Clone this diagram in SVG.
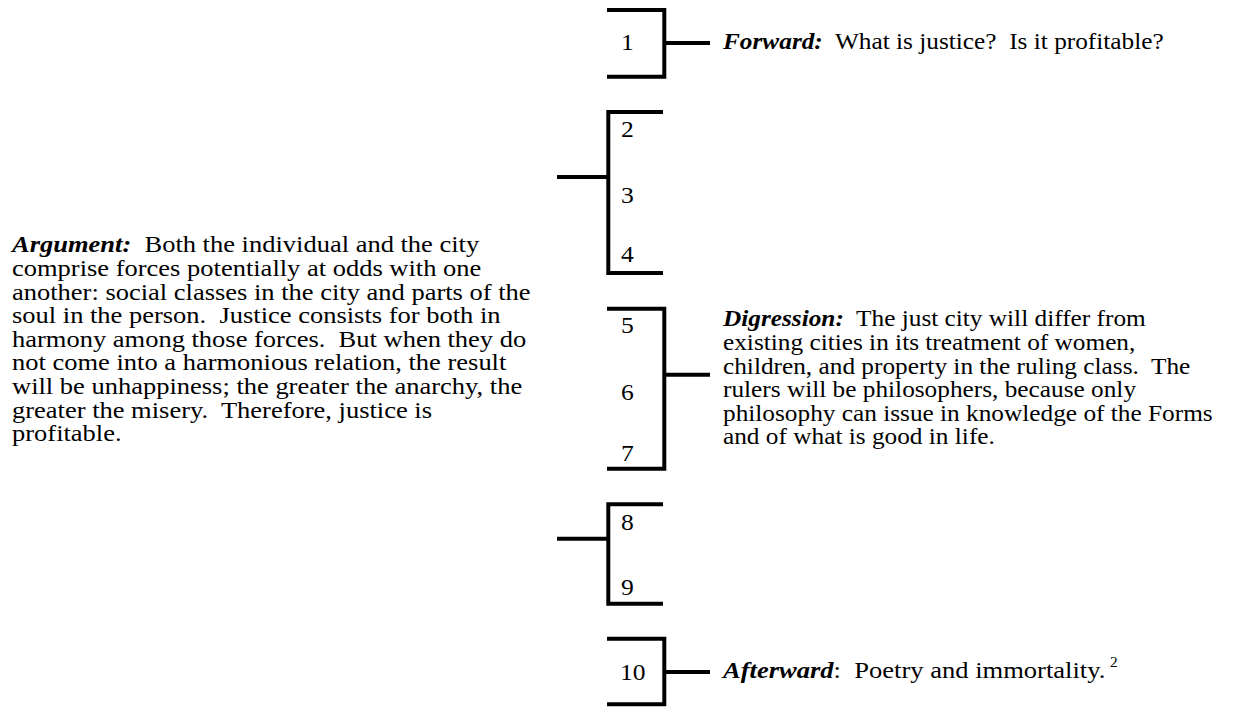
<svg xmlns="http://www.w3.org/2000/svg" width="1249" height="709" viewBox="0 0 1249 709">
<style>
  text { font-family: "Liberation Serif", "Times New Roman", serif; fill: #000; white-space: pre; font-size: 23.5px; }
  .bi { font-weight: bold; font-style: italic; }
  .sup { font-size: 14px; }
  .br { fill: none; stroke: #000; stroke-width: 4; stroke-linejoin: miter; stroke-linecap: butt; }
  .cn { stroke: #000; stroke-width: 4; stroke-linecap: butt; }
</style>
<rect width="1249" height="709" fill="#fff"/>

<g id="book1">
  <polyline class="br" points="607,10 664.3,10 664.3,76.7 607,76.7"/>
  <text transform="matrix(1.09 0 0 1 621 49.5)">1</text>
</g>
<g id="books2-4">
  <polyline class="br" points="663,112 608.3,112 608.3,273 663,273"/>
  <text transform="matrix(1.09 0 0 1 621 137)">2</text>
  <text transform="matrix(1.09 0 0 1 621 203)">3</text>
  <text transform="matrix(1.09 0 0 1 621 262)">4</text>
</g>
<g id="books5-7">
  <polyline class="br" points="607,308.7 664.3,308.7 664.3,468.7 607,468.7"/>
  <text transform="matrix(1.09 0 0 1 621 333)">5</text>
  <text transform="matrix(1.09 0 0 1 621 400)">6</text>
  <text transform="matrix(1.09 0 0 1 621 460.7)">7</text>
</g>
<g id="books8-9">
  <polyline class="br" points="663,504.3 608.3,504.3 608.3,603.7 663,603.7"/>
  <text transform="matrix(1.09 0 0 1 621 530)">8</text>
  <text transform="matrix(1.09 0 0 1 621 595)">9</text>
</g>
<g id="book10">
  <polyline class="br" points="607,638.7 664.3,638.7 664.3,704.3 607,704.3"/>
  <text transform="matrix(1.09 0 0 1 620 680)">10</text>
</g>

<g id="connectors">
  <line class="cn" x1="664" y1="43" x2="710" y2="43"/>
  <line class="cn" x1="557" y1="177" x2="608" y2="177"/>
  <line class="cn" x1="664" y1="374.7" x2="710" y2="374.7"/>
  <line class="cn" x1="557" y1="538.7" x2="608" y2="538.7"/>
  <line class="cn" x1="664" y1="672" x2="710" y2="672"/>
</g>

<g id="forward">
  <text transform="matrix(1.077 0 0 1 723 48.5)"><tspan class="bi">Forward:</tspan>  What is justice?  Is it profitable?</text>
</g>

<g id="argument" transform="matrix(1.128 0 0 1 12 0)">
  <text x="0" y="252.5"><tspan class="bi">Argument:</tspan>  Both the individual and the city</text>
  <text x="0" y="276.1">comprise forces potentially at odds with one</text>
  <text x="0" y="299.7">another: social classes in the city and parts of the</text>
  <text x="0" y="323.3">soul in the person.  Justice consists for both in</text>
  <text x="0" y="346.9">harmony among those forces.  But when they do</text>
  <text x="0" y="370.5">not come into a harmonious relation, the result</text>
  <text x="0" y="394.1">will be unhappiness; the greater the anarchy, the</text>
  <text x="0" y="417.7">greater the misery.  Therefore, justice is</text>
  <text x="0" y="441.3">profitable.</text>
</g>

<g id="digression" transform="matrix(1.077 0 0 1 723 0)">
  <text x="0" y="326.5"><tspan class="bi">Digression:</tspan>  The just city will differ from</text>
  <text x="0" y="350.1">existing cities in its treatment of women,</text>
  <text x="0" y="373.7">children, and property in the ruling class.  The</text>
  <text x="0" y="397.3">rulers will be philosophers, because only</text>
  <text x="0" y="420.9">philosophy can issue in knowledge of the Forms</text>
  <text x="0" y="444.5">and of what is good in life.</text>
</g>

<g id="afterward">
  <text transform="matrix(1.13 0 0 1 723 678)"><tspan class="bi">Afterward</tspan>:  Poetry and immortality.</text>
  <text class="sup" transform="matrix(1.1 0 0 1 1110 667)">2</text>
</g>
</svg>
